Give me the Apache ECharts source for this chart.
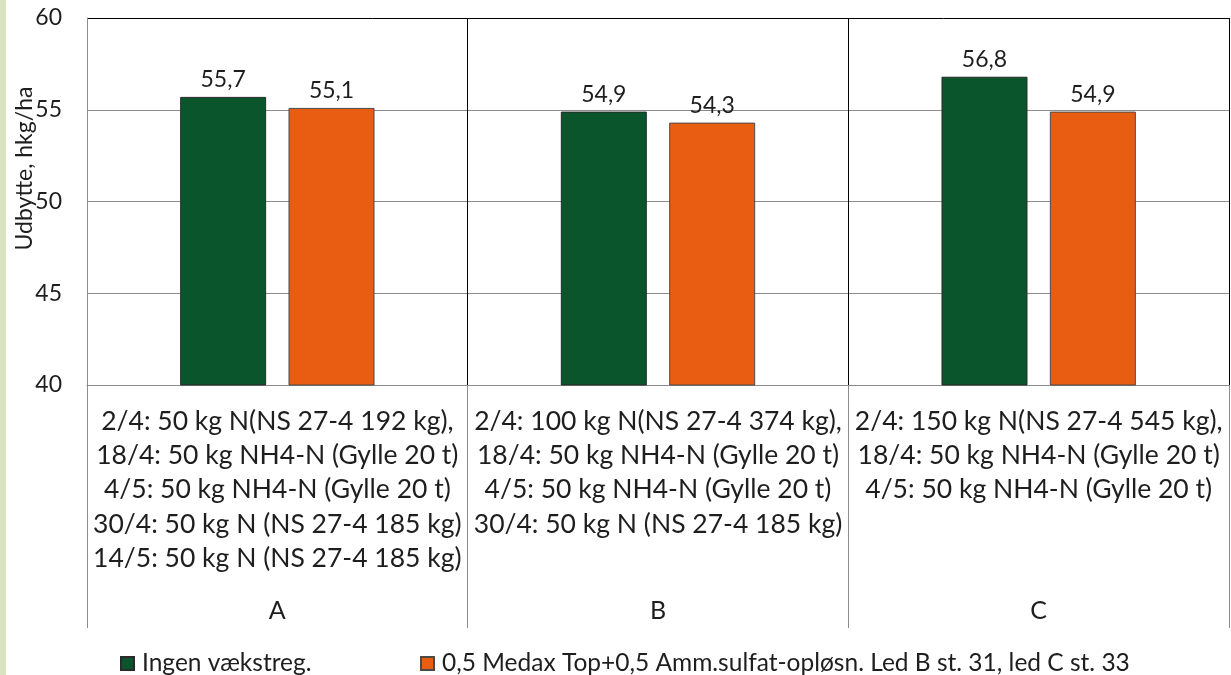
<!DOCTYPE html>
<html>
<head>
<meta charset="utf-8">
<script src="https://cdn.jsdelivr.net/npm/echarts@6/dist/echarts.min.js"></script>
<style>
  html, body { margin: 0; padding: 0; background: #ffffff; }
  #chart { width: 1231px; height: 675px; position: relative; }
  #strip { position: absolute; left: 0; top: 0; width: 6px; height: 675px; background: #d7e4bd; z-index: 10; }
</style>
</head>
<body>
<div id="strip"></div>
<div id="chart"></div>
<script>
// Fertiliser treatments (one multi-line label per group)
const treatmentLabels = [
  '2/4: 50 kg N(NS 27-4 192 kg),\n18/4: 50 kg NH4-N (Gylle 20 t)\n4/5: 50 kg NH4-N (Gylle 20 t)\n30/4: 50 kg N (NS 27-4 185 kg)\n14/5: 50 kg N (NS 27-4 185 kg)',
  '2/4: 100 kg N(NS 27-4 374 kg),\n18/4: 50 kg NH4-N (Gylle 20 t)\n4/5: 50 kg NH4-N (Gylle 20 t)\n30/4: 50 kg N (NS 27-4 185 kg)',
  '2/4: 150 kg N(NS 27-4 545 kg),\n18/4: 50 kg NH4-N (Gylle 20 t)\n4/5: 50 kg NH4-N (Gylle 20 t)'
];
const groupLetters = ['A', 'B', 'C'];

const seriesNames = [
  'Ingen vækstreg.',
  '0,5 Medax Top+0,5 Amm.sulfat-opløsn. Led B st. 31, led C st. 33'
];
const yieldNoRegulator = [55.7, 54.9, 56.8];
const yieldMedax = [55.1, 54.3, 54.9];

const yTicks = { min: 40, max: 60, interval: 5 };

const FONT = 'Lato';
const TEXT = '#1e1e1e';
const GRID_GRAY = '#8c8c8c';

const fmtComma = v => String(v).replace('.', ',');

const chart = echarts.init(document.getElementById('chart'), null, { renderer: 'canvas' });

const legendBase = {
  top: 646,
  icon: 'rect', itemWidth: 13, itemHeight: 13, itemGap: 0,
  textStyle: { fontFamily: FONT, fontSize: 24.5, color: TEXT, padding: [0, 0, 0, 3] }
};

chart.setOption({
  animation: false,
  backgroundColor: '#ffffff',
  textStyle: { fontFamily: FONT, color: TEXT },
  grid: { left: 87, right: 2, top: 18, bottom: 290, containLabel: false, outerBoundsMode: 'none' },
  legend: [
    Object.assign({}, legendBase, { data: [seriesNames[0]], left: 115 }),
    Object.assign({}, legendBase, { data: [seriesNames[1]], left: 415 })
  ],
  xAxis: [
    {
      type: 'category',
      data: treatmentLabels,
      position: 'bottom',
      axisLine: { show: true, lineStyle: { color: GRID_GRAY, width: 1 } },
      axisTick: { show: true, length: 243, alignWithLabel: false, lineStyle: { color: GRID_GRAY, width: 1 } },
      splitLine: { show: true, lineStyle: { color: '#000000', width: 1 } },
      axisLabel: {
        interval: 0, margin: 19,
        fontFamily: FONT, fontSize: 26.5, lineHeight: 34.3, color: TEXT, align: 'center'
      }
    },
    {
      type: 'category',
      data: groupLetters,
      position: 'bottom',
      offset: 0,
      axisLine: { show: false },
      axisTick: { show: false },
      axisLabel: { interval: 0, margin: 213, fontFamily: FONT, fontSize: 25, color: TEXT }
    }
  ],
  yAxis: {
    type: 'value',
    min: yTicks.min, max: yTicks.max, interval: yTicks.interval,
    name: 'Udbytte, hkg/ha',
    nameLocation: 'middle',
    nameGap: 51,
    nameRotate: 90,
    nameMoveOverlap: false,
    nameTextStyle: { fontFamily: FONT, fontSize: 23, color: TEXT, padding: [0, 0, 0, 66] },
    axisLine: { show: true, lineStyle: { color: GRID_GRAY, width: 1 } },
    axisTick: { show: false },
    axisLabel: { margin: 25, fontFamily: FONT, fontSize: 23, color: TEXT },
    splitLine: {
      show: true,
      lineStyle: { color: [GRID_GRAY, GRID_GRAY, GRID_GRAY, GRID_GRAY, '#000000'], width: 1 }
    }
  },
  series: [
    {
      name: seriesNames[0],
      type: 'bar',
      xAxisIndex: 0,
      data: yieldNoRegulator,
      barWidth: 86,
      barGap: '26%',
      itemStyle: { color: '#0b552c', borderColor: '#2a2a2a', borderWidth: 1 },
      label: {
        show: true, position: 'top', distance: 6,
        fontFamily: FONT, fontSize: 23, color: TEXT,
        formatter: p => fmtComma(p.value)
      }
    },
    {
      name: seriesNames[1],
      type: 'bar',
      xAxisIndex: 0,
      data: yieldMedax,
      barWidth: 86,
      barGap: '26%',
      itemStyle: { color: '#e85d12', borderColor: '#4a4a4a', borderWidth: 1 },
      label: {
        show: true, position: 'top', distance: 6,
        fontFamily: FONT, fontSize: 23, color: TEXT,
        formatter: p => fmtComma(p.value)
      }
    }
  ]
});
</script>
</body>
</html>
